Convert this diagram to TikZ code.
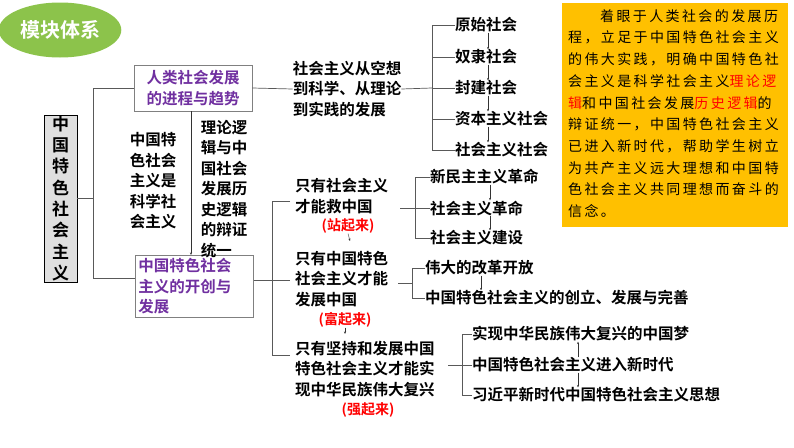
\documentclass[tikz,border=0pt]{standalone}
\usepackage{fontspec}
\newfontfamily\cjk{Noto Sans CJK SC}[BoldFont={* Bold}]
\newfontfamily\cjkl[LetterSpace=17]{Noto Sans CJK SC}
\usetikzlibrary{shapes.geometric,arrows.meta}
\definecolor{pur}{RGB}{112,48,160}
\definecolor{gold}{RGB}{255,192,0}
\definecolor{grn}{RGB}{140,195,75}
\begin{document}
\begin{tikzpicture}[x=1pt,y=-1pt,
 t/.style={font=\cjk\bfseries\fontsize{15.5}{20.5}\selectfont,inner sep=0pt,align=left},
 r/.style={font=\cjk\bfseries\fontsize{14}{16}\selectfont,text=red,inner sep=0pt},
 ln/.style={draw=gray!70!black,line width=0.7pt},
 ar/.style={-{Stealth[length=2.5pt,width=2pt]},line width=0.4pt,gray!40!black},
 yl/.style={font=\cjkl\fontsize{14}{16}\selectfont,anchor=west,inner sep=0pt}]
\useasboundingbox (0,0) rectangle (794,447);
\node[ellipse,fill=grn,minimum width=120,minimum height=55,text=white,font=\cjk\bfseries\fontsize{20}{22}\selectfont] (title) at (60,30) {模块体系};
\node[draw=black,fill=gray!25,minimum width=33,minimum height=167,inner sep=0pt,font=\cjk\bfseries\fontsize{17}{21.3}\selectfont,align=center] (root) at (60.5,198.5) {中\\国\\特\\色\\社\\会\\主\\义};
\node[draw=gray,line width=0.8pt,minimum width=118,minimum height=46,t,text=pur,inner sep=0pt] (b1) at (193,88) {人类社会发展\\的进程与趋势};
\node[draw=gray,line width=0.8pt,minimum width=118,minimum height=46,t,text=pur,anchor=north west,text width=112,inner sep=3pt] (b2) at (135,255) {中国特色社会\\主义的开创与\\发展};
\draw[ln] (root.east) -- (93,198.5) coordinate (j) ;
\draw[ln] (b1.west) -| (93,278) -- (b2.west|-0,278);
\node[t] (m1) at (153,181) {中国特\\色社会\\主义是\\科学社\\会主义};
\node[t] (m2) at (224,189) {理论逻\\辑与中\\国社会\\发展历\\史逻辑\\的辩证\\统一};
\draw[ar] (191,111) -- (191,255);
\node[t] (s1) at (347,89) {社会主义从空想\\到科学、从理论\\到实践的发展};
\draw[ln] (b1.east) -- (s1.west);
% society chain
\foreach \n/\y/\s in {p1/25/原始社会,p2/57/奴隶社会,p3/88/封建社会,p4/119/资本主义社会,p5/150/社会主义社会}
 \node[t,anchor=west] (\n) at (455,\y) {\s};
\draw[ln] (s1.east) -- (432,88);
\draw[ln] (p1.west) -- (432,25) -- (432,150) -- (p5.west);
\foreach \n in {p2,p3,p4} \draw[ln] (432,0|-\n.west) -- (\n.west);
\foreach \a/\b in {p1/p2,p2/p3,p3/p4,p4/p5} \draw[ar] (488,0|-\a.south) -- (488,0|-\b.north);
% yellow box
\node[fill=gold,minimum width=226,minimum height=224,anchor=north west,inner sep=0pt] (yb) at (562,3) {};
\foreach \i/\s in {0/{\hspace{32pt}着眼于人类社会的发展历},1/{程，立足于中国特色社会主义},2/{的伟大实践，明确中国特色社},3/{会主义是科学社会主义\textcolor{red}{理论逻}},4/{\textcolor{red}{辑}和中国社会发展\textcolor{red}{历史逻辑}的},5/{辩证统一，中国特色社会主义},6/{已进入新时代，帮助学生树立},7/{为共产主义远大理想和中国特},8/{色社会主义共同理想而奋斗的},9/{信念。}}
 \node[yl] (y\i) at (568,16+21.7*\i) {\s};
% lower
\node[t,anchor=west] (A) at (295,196) {只有社会主义\\才能救中国};
\node[r] (Ar) at (348,226) {(站起来)};
\node[t,anchor=west] (B) at (295,279) {只有中国特色\\社会主义才能\\发展中国};
\node[r] (Br) at (345,320) {(富起来)};
\node[t,anchor=west] (C) at (295,369) {只有坚持和发展中国\\特色社会主义才能实\\现中华民族伟大复兴};
\node[r] (Cr) at (368,410) {(强起来)};
\draw[ln] (290,201) -- (272,201) -- (272,355) -- (290,355);
\draw[ln] (b2.east|-0,280) -- (290,280);
\draw[ar] (Ar.south) -- (350,241);
\draw[ar] (Br.south) -- (345,334);
\foreach \n/\x/\y/\s in {a1/430/177/新民主主义革命,a2/430/208/社会主义革命,a3/430/238/社会主义建设,c1/425/268/伟大的改革开放,c2/425/298/中国特色社会主义的创立、发展与完善,d1/472/334/实现中华民族伟大复兴的中国梦,d2/472/365/中国特色社会主义进入新时代,d3/472/395/习近平新时代中国特色社会主义思想}
 \node[t,anchor=west] (\n) at (\x,\y) {\s};
\draw[ln] (400,208) -- (a2.west);
\draw[ln] (a1.west) -- (415,177) -- (415,238) -- (a3.west);
\draw[ln] (398,283) -- (412,283);
\draw[ln] (c1.west) -- (412,268) -- (412,298) -- (c2.west);
\draw[ln] (448,365) -- (d2.west);
\draw[ln] (d1.west) -- (462,334) -- (462,395) -- (d3.west);
\draw[ar] (490,0|-a1.south) -- (490,0|-a2.north);
\draw[ar] (490,0|-a2.south) -- (490,0|-a3.north);
\draw[ar] (481,0|-c1.south) -- (481,0|-c2.north);
\draw[ar] (578,0|-d2.north) -- (578,0|-d1.south);
\draw[ar] (578,0|-d2.south) -- (578,0|-d3.north);
\end{tikzpicture}
\end{document}
